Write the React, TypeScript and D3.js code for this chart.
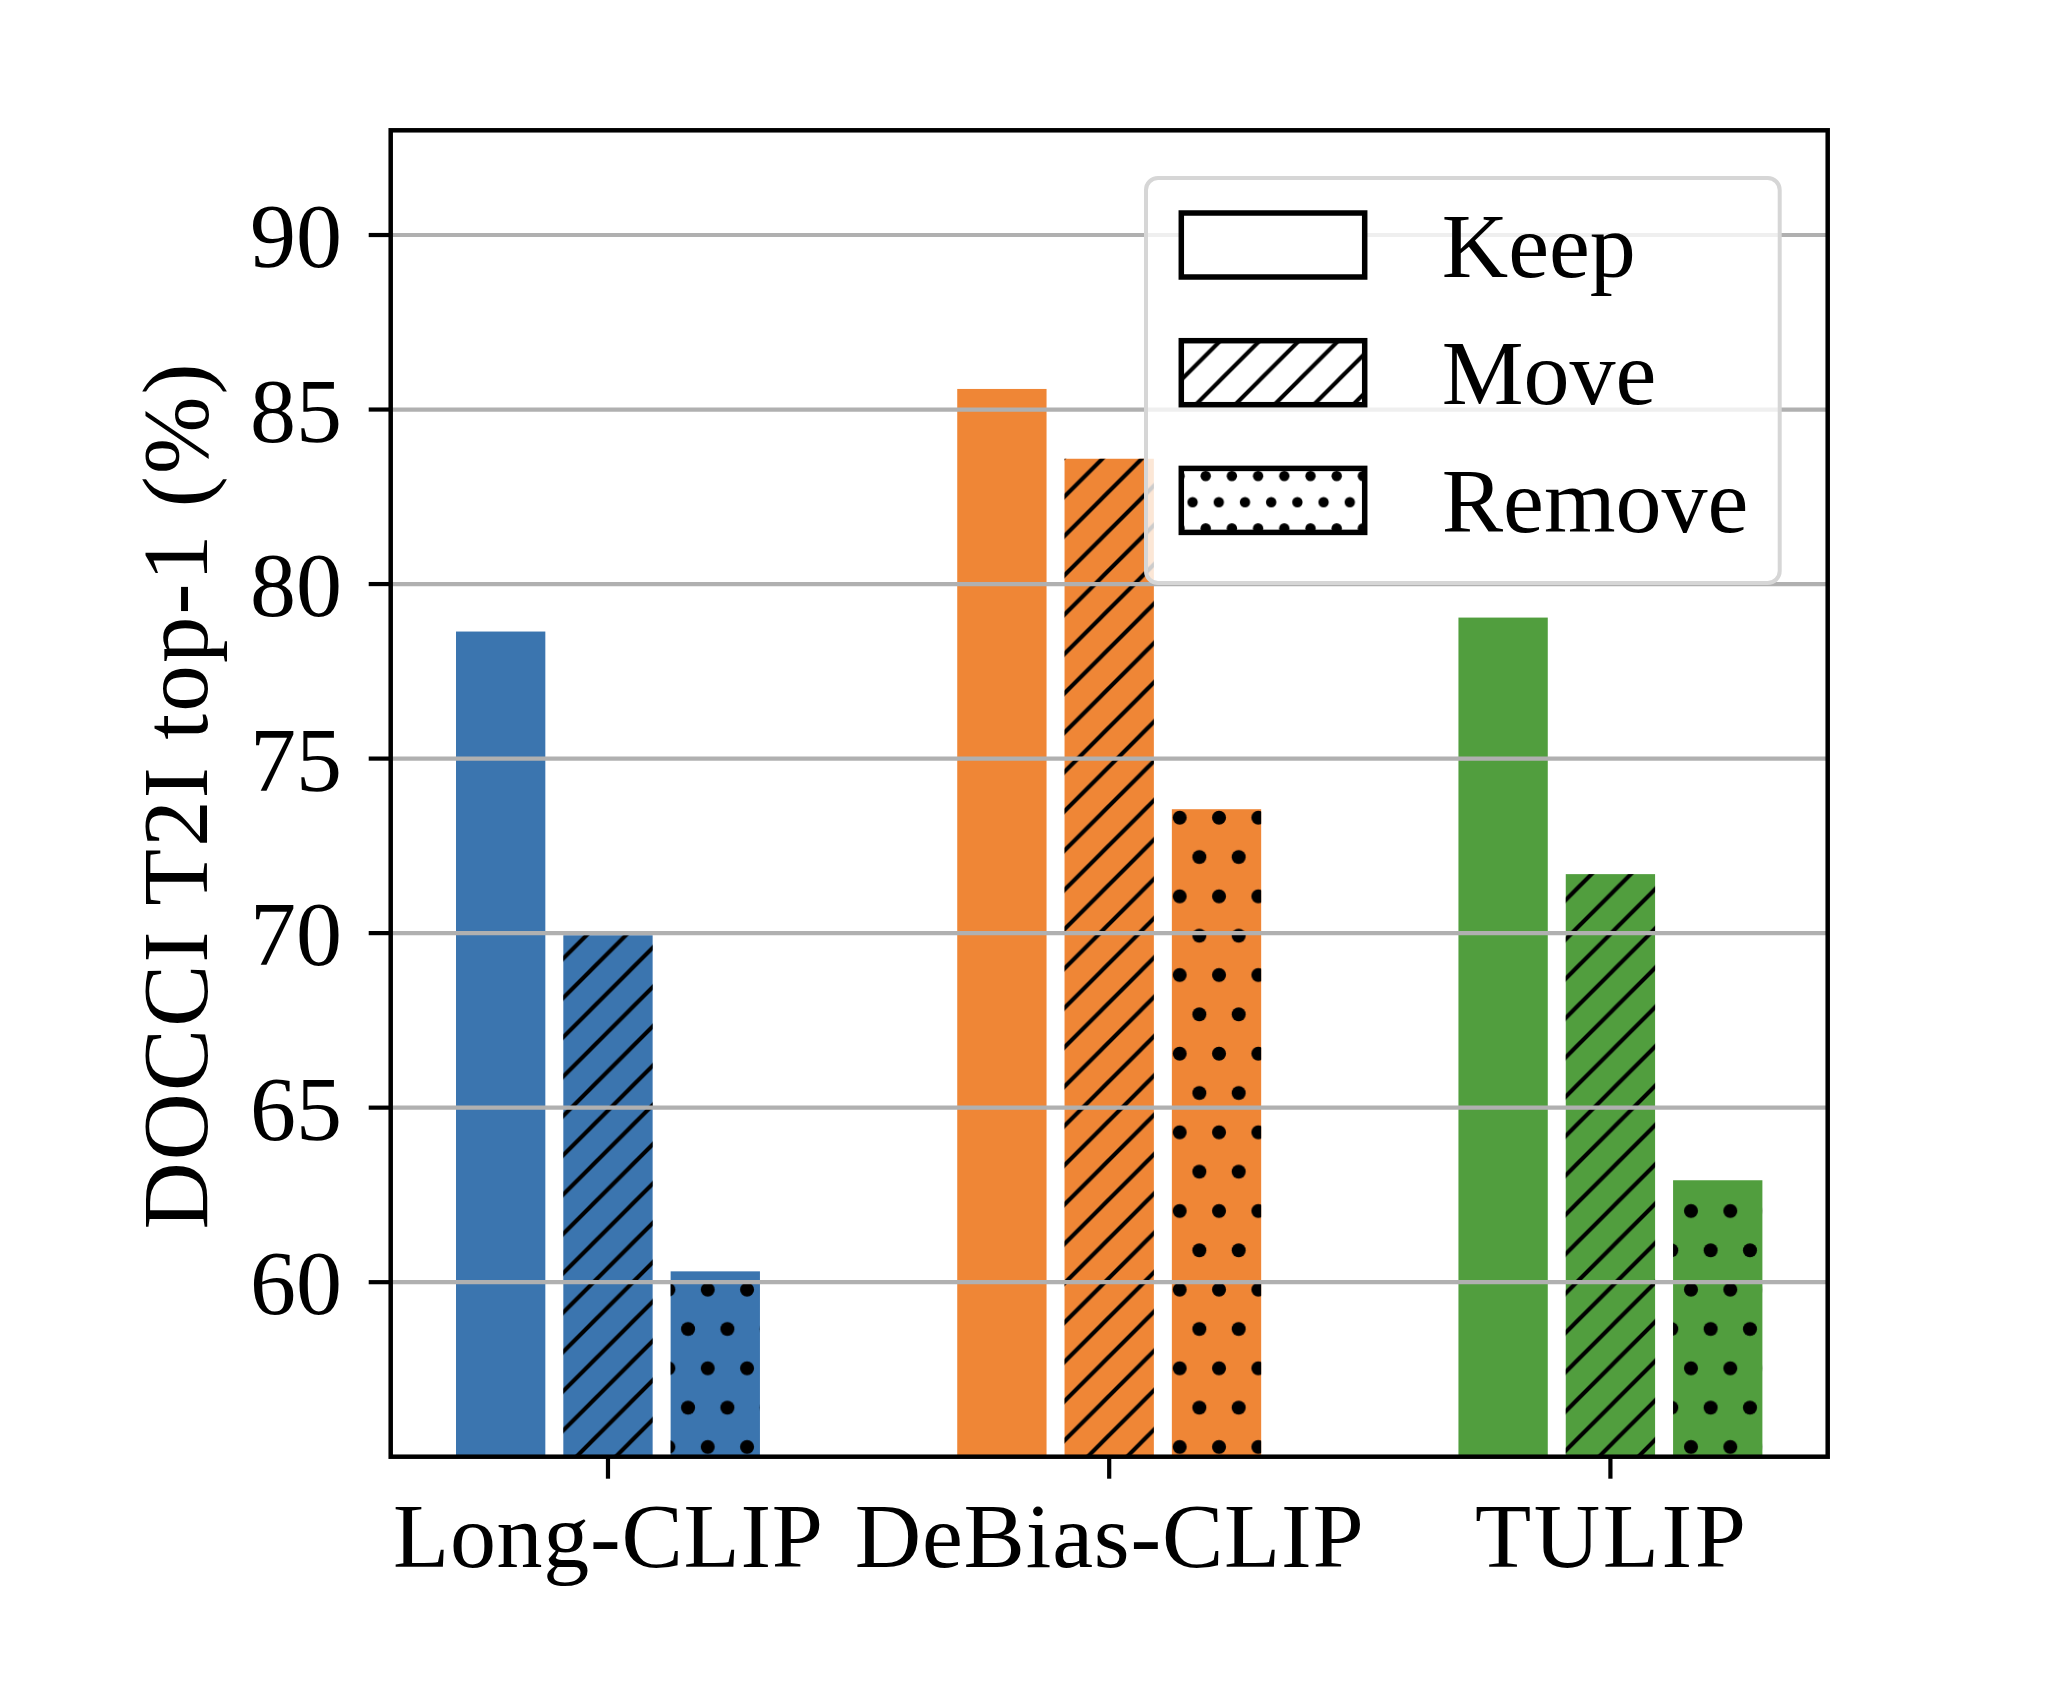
import React from "react";
import * as d3 from "d3";

const categories = ["Long-CLIP", "DeBias-CLIP", "TULIP"];
const seriesNames = ["Keep", "Move", "Remove"];
const keepValues = [78.64, 85.59, 79.04];
const moveValues = [69.94, 83.59, 71.69];
const removeValues = [60.31, 73.55, 62.92];
const yTicks = [60, 65, 70, 75, 80, 85, 90];
const categoryColors = ["#3b75af", "#ef8636", "#519e3e"];
const yLabel = "DOCCI T2I top-1 (%)";
const xLabelLengths = [430, 509, 271];

const W = 2054;
const H = 1684;
const FONT = "'Liberation Serif', 'Times New Roman', serif";

export default function App() {
  const left = 390.7, right = 1827.7, top = 130.3, bottom = 1456.7;
  const series = [keepValues, moveValues, removeValues];
  const x = d3.scaleLinear().domain([-0.4335, categories.length - 1 + 0.4335]).range([left, right]);
  const y = d3.scaleLinear().domain([55, 93]).range([bottom, top]);
  const step = 0.2141;
  const bw = 0.1782;
  const hatchFill = ["none", "url(#hatchLines)", "url(#hatchDots)"];
  const legendHatch = ["none", "url(#hatchLines)", "url(#legendDots)"];

  const hs = 39.33;
  const lines = `M0,${hs} L${hs},0 M${-hs / 4},${hs / 4} L${hs / 4},${-hs / 4} M${(3 * hs) / 4},${(5 * hs) / 4} L${(5 * hs) / 4},${(3 * hs) / 4}`;
  const ld = 26.2;

  const legX = 1146, legY = 178, legW = 633.7, legH = 405;
  const rowY = (i: number) => 245 + i * 127.7;

  return (
    <svg width={W} height={H} style={{ position: "absolute", left: 0, top: 0, background: "#fff" }}>
      <defs>
        <pattern id="hatchLines" patternUnits="userSpaceOnUse" x={0} y={-12.1} width={hs} height={hs}>
          <path d={lines} stroke="#000" strokeWidth={4.1} fill="none" />
        </pattern>
        <pattern id="hatchDots" patternUnits="userSpaceOnUse" x={1179.7 - hs / 4} y={817.7 - hs / 2} width={hs} height={hs * 2}>
          <circle cx={hs / 4} cy={hs / 2} r={7} fill="#000" />
          <circle cx={(3 * hs) / 4} cy={(3 * hs) / 2} r={7} fill="#000" />
        </pattern>
        <pattern id="legendDots" patternUnits="userSpaceOnUse" x={1205.7 - ld / 4} y={476 - ld / 2} width={ld} height={ld * 2}>
          <circle cx={ld / 4} cy={ld / 2} r={5.2} fill="#000" />
          <circle cx={(3 * ld) / 4} cy={(3 * ld) / 2} r={5.2} fill="#000" />
        </pattern>
      </defs>
      <rect x={0} y={0} width={W} height={H} fill="#fff" />

      {/* bars */}
      {categories.map((c, ci) =>
        series.map((vals, si) => {
          const cx = ci + (si - 1) * step;
          const x0 = x(cx - bw / 2);
          const x1 = x(cx + bw / 2);
          const yt = y(vals[ci]);
          return (
            <g key={`${ci}-${si}`}>
              <rect x={x0} y={yt} width={x1 - x0} height={bottom - yt} fill={categoryColors[ci]} />
              {si > 0 && <rect x={x0} y={yt} width={x1 - x0} height={bottom - yt} fill={hatchFill[si]} />}
            </g>
          );
        })
      )}

      {/* grid lines (drawn above bars) */}
      {yTicks.map((t) => (
        <line key={`g${t}`} x1={left} x2={right} y1={y(t)} y2={y(t)} stroke="#b0b0b0" strokeWidth={4.2} />
      ))}

      {/* spines */}
      <rect x={left} y={top} width={right - left} height={bottom - top} fill="none" stroke="#000" strokeWidth={4.5} />

      {/* y ticks */}
      {yTicks.map((t) => (
        <g key={`yt${t}`}>
          <line x1={left - 22} x2={left} y1={y(t)} y2={y(t)} stroke="#000" strokeWidth={4.2} />
          <text x={342} y={y(t) + 32} textAnchor="end" fontFamily={FONT} fontSize={92} fill="#000">
            {t}
          </text>
        </g>
      ))}

      {/* x ticks */}
      {categories.map((c, ci) => (
        <g key={`xt${ci}`}>
          <line x1={x(ci)} x2={x(ci)} y1={bottom} y2={bottom + 22} stroke="#000" strokeWidth={4.2} />
          <text
            x={x(ci)}
            y={1566.7}
            textAnchor="middle"
            fontFamily={FONT}
            fontSize={92}
            fill="#000"
            textLength={xLabelLengths[ci]}
            lengthAdjust="spacing"
          >
            {c}
          </text>
        </g>
      ))}

      {/* y label */}
      <text
        transform={`translate(207,${(top + bottom) / 2 + 3}) rotate(-90)`}
        textAnchor="middle"
        fontFamily={FONT}
        fontSize={93}
        fill="#000"
        textLength={866}
        lengthAdjust="spacing"
      >
        {yLabel}
      </text>

      {/* legend */}
      <rect x={legX} y={legY} width={legW} height={legH} rx={12} ry={12} fill="#fff" fillOpacity={0.8} stroke="#d6d6d6" strokeWidth={4} />
      {seriesNames.map((s, i) => (
        <g key={`leg${i}`}>
          <rect x={1181.3} y={rowY(i) - 32} width={183.4} height={64} fill="#fff" />
          {i > 0 && <rect x={1181.3} y={rowY(i) - 32} width={183.4} height={64} fill={legendHatch[i]} />}
          <rect x={1181.3} y={rowY(i) - 32} width={183.4} height={64} fill="none" stroke="#000" strokeWidth={5.5} />
          <text x={1441.7} y={rowY(i) + 31.7} fontFamily={FONT} fontSize={92} fill="#000">
            {s}
          </text>
        </g>
      ))}
    </svg>
  );
}
